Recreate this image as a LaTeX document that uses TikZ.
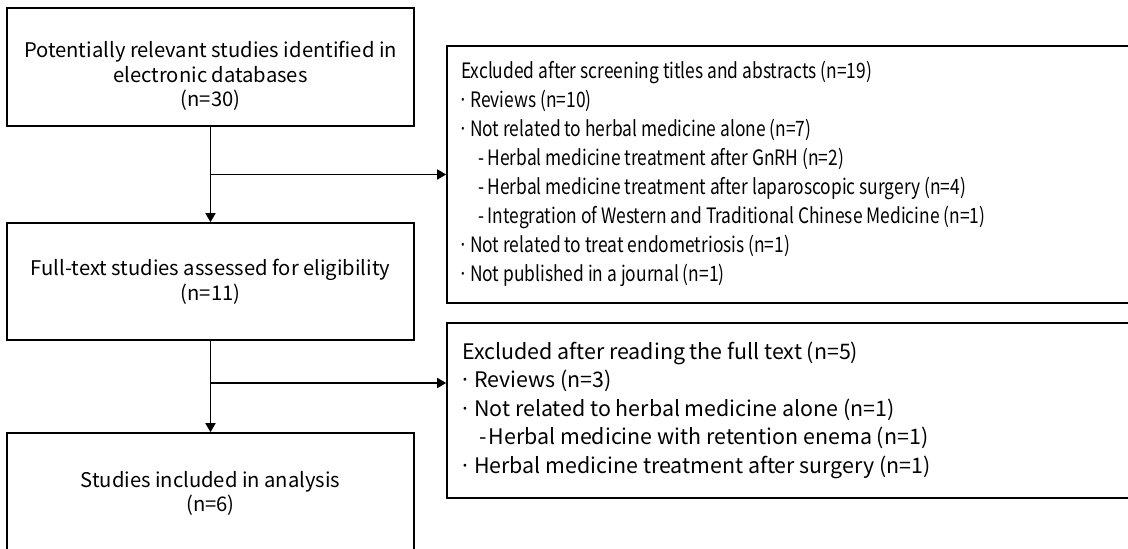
\documentclass[tikz,border=0pt]{standalone}
\usepackage{fontspec}
\setmainfont{Noto Sans CJK KR}
\newfontfamily\condf[FakeStretch=0.82]{Noto Sans CJK KR}
\usetikzlibrary{arrows.meta}
\newcommand{\mydot}[1]{\hspace*{-3pt}\makebox[#1][l]{·}}
\newcommand{\mysub}{\hspace*{17pt}\makebox[9.5pt][l]{-}}
\begin{document}
\begin{tikzpicture}[x=1pt,y=1pt,
  box/.style={draw, line width=1.6pt, minimum width=407pt, inner sep=0pt},
  wbox/.style={draw, line width=1.6pt, minimum width=688pt, inner sep=0pt},
  arr/.style={line width=1.6pt, -{Triangle[length=9pt,width=10pt]}},
  ctxt/.style={font=\fontsize{20.2}{24.5}\selectfont, align=center, inner sep=0pt},
  ltxt/.style={align=left, inner sep=0pt, anchor=west}]
\clip (0,0) rectangle (1128,549);
% boxes
\node[box, minimum height=118pt] (b1) at (210.5,482) {};
\node[box, minimum height=117pt] (b3) at (210.5,267.5) {};
\node[box, minimum height=125pt] (b4) at (210.5,53.5) {};
\node[wbox, minimum height=257pt] (e1) at (791,374.5) {};
\node[wbox, minimum height=175pt] (e2) at (791,138.5) {};
% texts
\node[ctxt] (t1) at (210.5,473) {Potentially relevant studies identified in\\electronic databases\\(n=30)};
\node[ctxt] (t3) at (210.5,267) {Full-text studies assessed for eligibility\\(n=11)};
\node[ctxt] (t4) at (210.5,55.5) {Studies included in analysis\\(n=6)};
\node[ltxt, font=\condf\fontsize{21.2}{28.9}\selectfont] (t5) at (461,375) {Excluded after screening titles and abstracts (n=19)\\
\mydot{12pt}Reviews (n=10)\\
\mydot{12pt}Not related to herbal medicine alone (n=7)\\
\mysub Herbal medicine treatment after GnRH (n=2)\\
\mysub Herbal medicine treatment after laparoscopic surgery (n=4)\\
\mysub Integration of Western and Traditional Chinese Medicine (n=1)\\
\mydot{12pt}Not related to treat endometriosis (n=1)\\
\mydot{12pt}Not published in a journal (n=1)};
\node[ltxt, font=\fontsize{21.4}{28.5}\selectfont] (t6) at (462,139) {Excluded after reading the full text (n=5)\\
\mydot{15pt}Reviews (n=3)\\
\mydot{15pt}Not related to herbal medicine alone (n=1)\\
\mysub Herbal medicine with retention enema (n=1)\\
\mydot{15pt}Herbal medicine treatment after surgery (n=1)};
% connectors
\draw[arr] (b1.south) -- (b3.north);
\draw[arr] (b3.south) -- (b4.north);
\coordinate (j1) at (0,374.5);
\coordinate (j2) at (0,166);
\draw[arr] (b1.south |- j1) -- (e1.west |- j1);
\draw[arr] (b3.south |- j2) -- (e2.west |- j2);
\end{tikzpicture}
\end{document}
